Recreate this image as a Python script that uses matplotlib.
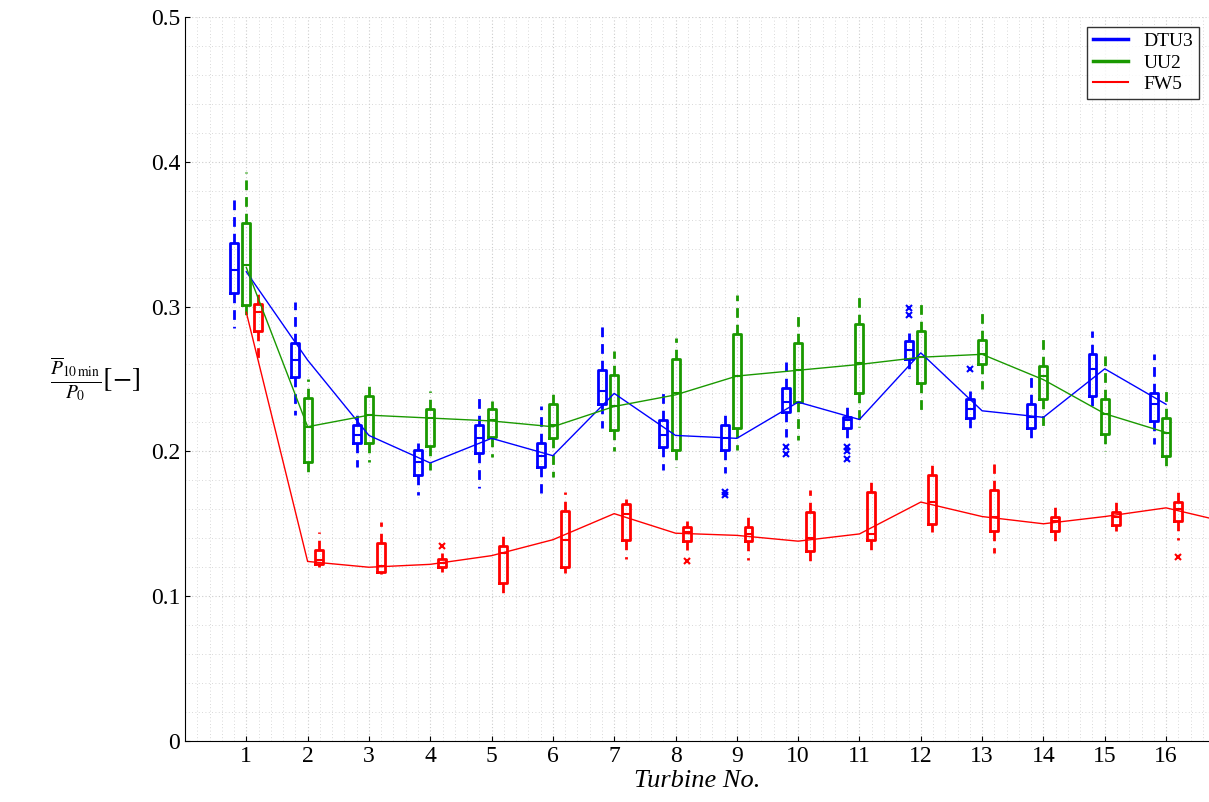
import numpy as np
import matplotlib
matplotlib.use("Agg")
import matplotlib.pyplot as plt
from matplotlib.lines import Line2D

plt.rcParams["font.family"] = "Liberation Serif"
plt.rcParams["mathtext.fontset"] = "stix"

turbines = np.arange(1, 17)

# per turbine: q1, median, q3, whisker low, whisker high
dtu_q1 = [0.309, 0.251, 0.206, 0.184, 0.199, 0.189, 0.233, 0.203, 0.201, 0.227, 0.216, 0.264, 0.223, 0.216, 0.238, 0.221]
dtu_med = [0.325, 0.263, 0.211, 0.193, 0.209, 0.197, 0.242, 0.211, 0.209, 0.234, 0.222, 0.270, 0.229, 0.224, 0.257, 0.233]
dtu_q3 = [0.344, 0.275, 0.218, 0.201, 0.218, 0.206, 0.256, 0.222, 0.218, 0.244, 0.224, 0.276, 0.236, 0.233, 0.267, 0.240]
dtu_lo = [0.285, 0.225, 0.189, 0.170, 0.175, 0.171, 0.216, 0.187, 0.185, 0.210, 0.208, 0.252, 0.216, 0.205, 0.229, 0.205]
dtu_hi = [0.374, 0.303, 0.225, 0.206, 0.239, 0.231, 0.287, 0.241, 0.225, 0.262, 0.231, 0.282, 0.242, 0.254, 0.283, 0.267]
dtu_out = [[], [], [], [], [], [], [], [], [0.172, 0.170], [0.203, 0.198], [0.203, 0.200, 0.195], [0.299, 0.294], [0.257], [], [], []]
dtu_line = [0.324, 0.263, 0.211, 0.192, 0.209, 0.197, 0.240, 0.211, 0.209, 0.234, 0.222, 0.268, 0.228, 0.2235, 0.257, 0.2325]

uu_q1 = [0.301, 0.193, 0.206, 0.204, 0.210, 0.209, 0.215, 0.201, 0.216, 0.234, 0.240, 0.247, 0.260, 0.236, 0.212, 0.197]
uu_med = [0.329, 0.217, 0.225, 0.223, 0.222, 0.218, 0.231, 0.240, 0.252, 0.256, 0.261, 0.265, 0.267, 0.252, 0.226, 0.213]
uu_q3 = [0.358, 0.237, 0.238, 0.229, 0.229, 0.233, 0.253, 0.264, 0.281, 0.275, 0.288, 0.283, 0.277, 0.259, 0.236, 0.223]
uu_lo = [0.293, 0.185, 0.193, 0.187, 0.196, 0.182, 0.200, 0.189, 0.201, 0.208, 0.217, 0.225, 0.243, 0.215, 0.200, 0.189]
uu_hi = [0.393, 0.250, 0.249, 0.242, 0.235, 0.244, 0.269, 0.278, 0.308, 0.294, 0.309, 0.305, 0.296, 0.279, 0.270, 0.244]
uu_line = [0.327, 0.217, 0.225, 0.223, 0.221, 0.217, 0.231, 0.239, 0.252, 0.256, 0.260, 0.265, 0.267, 0.2495, 0.226, 0.213]

fw_q1 = [0.283, 0.122, 0.117, 0.120, 0.109, 0.120, 0.139, 0.138, 0.138, 0.131, 0.139, 0.150, 0.145, 0.145, 0.149, 0.152]
fw_med = [0.296, 0.125, 0.121, 0.123, 0.130, 0.139, 0.157, 0.144, 0.143, 0.140, 0.143, 0.165, 0.155, 0.152, 0.155, 0.160]
fw_q3 = [0.302, 0.132, 0.137, 0.126, 0.135, 0.159, 0.164, 0.148, 0.148, 0.158, 0.172, 0.184, 0.173, 0.155, 0.158, 0.165]
fw_lo = [0.263, 0.120, 0.115, 0.117, 0.101, 0.116, 0.126, 0.132, 0.125, 0.124, 0.130, 0.144, 0.130, 0.137, 0.145, 0.139]
fw_hi = [0.313, 0.144, 0.151, 0.130, 0.142, 0.172, 0.167, 0.152, 0.157, 0.173, 0.183, 0.192, 0.191, 0.162, 0.167, 0.175]
fw_out = [[], [], [], [0.135], [], [], [], [0.124], [], [], [], [], [], [], [], [0.127]]
fw_line_x = list(range(1, 18))
fw_line = [0.296, 0.124, 0.120, 0.122, 0.128, 0.139, 0.157, 0.1435, 0.142, 0.138, 0.143, 0.165, 0.155, 0.150, 0.155, 0.161, 0.151]

series = [
    ("DTU3", "#0000ff", -0.2, dtu_q1, dtu_med, dtu_q3, dtu_lo, dtu_hi, dtu_out),
    ("UU2", "#1a9900", 0.0, uu_q1, uu_med, uu_q3, uu_lo, uu_hi, [[]] * 16),
    ("FW5", "#ff0000", 0.19, fw_q1, fw_med, fw_q3, fw_lo, fw_hi, fw_out),
]

fig = plt.figure(figsize=(12.09, 8.02), dpi=100)
ax = fig.add_axes([0.153, 0.076, 0.847, 0.903])

for name, col, off, q1, med, q3, lo, hi, out in series:
    stats = []
    for i in range(16):
        stats.append(dict(q1=q1[i], med=med[i], q3=q3[i], whislo=lo[i], whishi=hi[i], fliers=out[i]))
    ax.bxp(stats, positions=turbines + off, widths=0.13, showcaps=False,
           boxprops=dict(color=col, lw=2), medianprops=dict(color=col, lw=1.5),
           whiskerprops=dict(color=col, lw=2, ls=(0, (3.5, 2.5))),
           flierprops=dict(marker="x", markersize=4, markeredgecolor=col, markeredgewidth=1.5),
           manage_ticks=False, zorder=3)

ax.plot(turbines, dtu_line, color="#0000ff", lw=1, zorder=4)
ax.plot(turbines, uu_line, color="#1a9900", lw=1, zorder=4)
ax.plot(fw_line_x, fw_line, color="#ff0000", lw=1, zorder=4)

ax.set_xlim(0, 16.7)
ax.set_ylim(0, 0.5)
ax.set_xticks(turbines)
ax.set_yticks(np.arange(0, 0.51, 0.1))
ax.set_yticklabels(["0", "0.1", "0.2", "0.3", "0.4", "0.5"])
ax.set_xticks(np.arange(0, 16.8, 0.2), minor=True)
ax.set_yticks(np.arange(0, 0.5, 0.02), minor=True)
ax.tick_params(which="both", direction="in", labelsize=17)
ax.tick_params(which="minor", length=0)
ax.grid(which="major", color="#cccccc", lw=0.8, ls=(0, (1, 2)))
ax.grid(which="minor", color="#cccccc", lw=0.6, ls=(0, (1, 3)))
ax.set_axisbelow(True)
for s in ["top", "right"]:
    ax.spines[s].set_visible(False)

ax.set_xlabel("Turbine No.", fontsize=19, style="italic", labelpad=2)
ax.set_ylabel(r"$\frac{\overline{P}_{10\,\mathrm{min}}}{P_0}[-]$", fontsize=20, rotation=0, labelpad=40, va="center")

handles = [Line2D([], [], color=c, lw=2.5 if n != "FW5" else 1.5) for n, c, *_ in series]
ax.legend(handles, [s[0] for s in series], loc="upper right", fontsize=14, fancybox=False,
          edgecolor="black", handlelength=1.8, borderpad=0.3, labelspacing=0.2)

fig.savefig("out.png", dpi=100)
